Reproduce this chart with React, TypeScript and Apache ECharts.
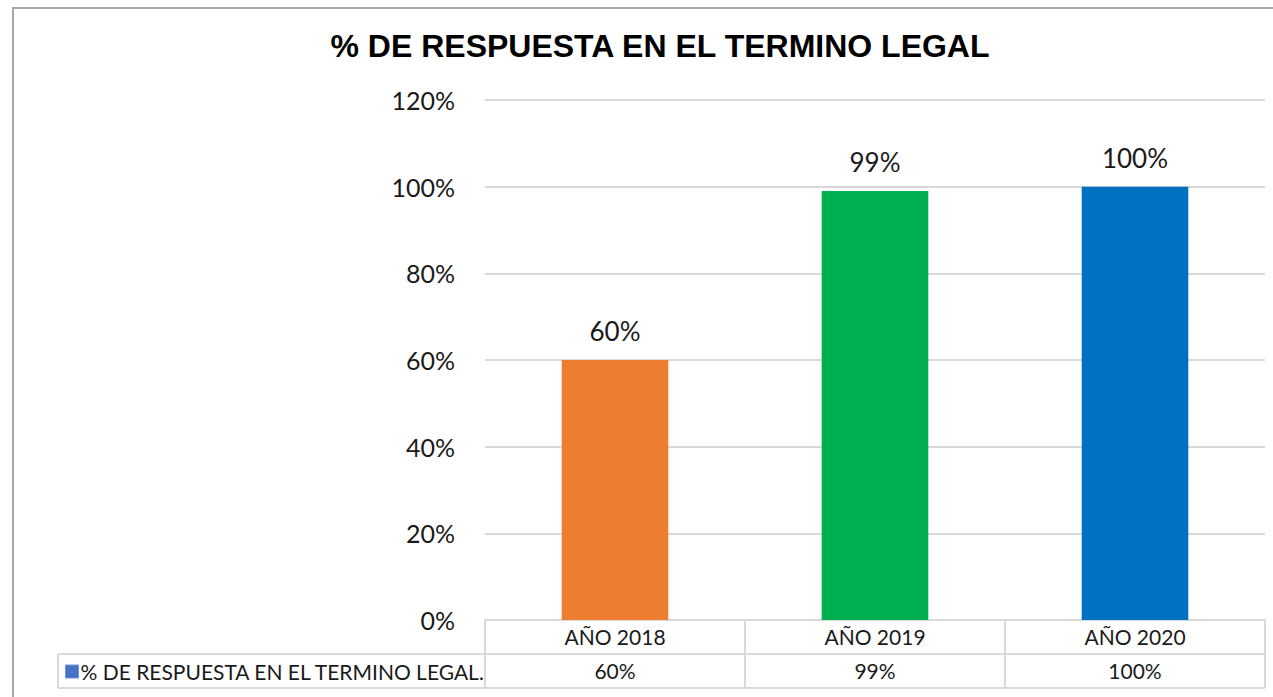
import React, { useEffect, useRef } from "react";
import * as echarts from "echarts";

const title = "% DE RESPUESTA EN EL TERMINO LEGAL";
const seriesName = "% DE RESPUESTA EN EL TERMINO LEGAL.";
const categories = ["AÑO 2018", "AÑO 2019", "AÑO 2020"];
const values = [60, 99, 100];
const barColors = ["#ED7D31", "#00B050", "#0070C0"];
const yTicks = { min: 0, max: 120, interval: 20 };

const FONT = "Lato, 'Noto Sans', sans-serif";

export default function App() {
  const ref = useRef<HTMLDivElement>(null);
  useEffect(() => {
    if (!ref.current) return;
    const chart = echarts.init(ref.current, null, { renderer: "svg" });
    const gridLeft = 485;
    const gridRight = 8;
    const gridTop = 100;
    const gridBottomY = 620;
    const rowH = 34;
    const tableColor = "#d9d9d9";
    chart.setOption({
      animation: false,
      backgroundColor: "#ffffff",
      title: {
        text: title,
        left: 655,
        textAlign: "center",
        top: 25,
        textStyle: {
          fontFamily: "'Liberation Sans', Arial, sans-serif",
          fontWeight: "bold",
          fontSize: 32,
          color: "#000000",
        },
      },
      legend: {
        show: true,
        left: 60,
        top: 656,
        itemWidth: 13,
        itemHeight: 13,
        itemGap: 4,
        icon: "rect",
        data: [seriesName],
        itemStyle: { borderColor: "#6f95d8", borderWidth: 1 },
        textStyle: { fontFamily: FONT, fontSize: 21, color: "#1a1a1a", padding: [0, 0, 0, -3] },
        selectedMode: false,
      },
      grid: {
        left: gridLeft,
        right: gridRight,
        top: gridTop,
        bottom: 697 - gridBottomY,
        containLabel: false,
      },
      xAxis: [
        {
          type: "category",
          data: categories,
          position: "bottom",
          axisLine: { show: true, lineStyle: { color: tableColor, width: 2 } },
          axisTick: {
            show: true,
            alignWithLabel: false,
            length: rowH * 2,
            lineStyle: { color: tableColor, width: 2 },
          },
          axisLabel: {
            margin: 6,
            fontFamily: FONT,
            fontSize: 21,
            color: "#1a1a1a",
          },
        },
        {
          type: "category",
          data: categories,
          position: "bottom",
          axisLine: { show: false },
          axisTick: { show: false },
          axisLabel: {
            margin: 40,
            fontFamily: FONT,
            fontSize: 21,
            color: "#1a1a1a",
            formatter: (_v: string, i: number) => values[i] + "%",
          },
        },
      ],
      yAxis: {
        type: "value",
        min: yTicks.min,
        max: yTicks.max,
        interval: yTicks.interval,
        axisLine: { show: false },
        axisTick: { show: false },
        splitLine: { show: true, lineStyle: { color: tableColor, width: 2 } },
        axisLabel: {
          margin: 30,
          fontFamily: FONT,
          fontSize: 25,
          color: "#1a1a1a",
          formatter: "{value}%",
        },
      },
      series: [
        {
          name: seriesName,
          type: "bar",
          xAxisIndex: 0,
          barWidth: "41%",
          itemStyle: { color: "#4472C4" },
          data: values.map((v, i) => ({ value: v, itemStyle: { color: barColors[i] } })),
          label: {
            show: true,
            position: "top",
            distance: 16,
            fontFamily: FONT,
            fontSize: 26,
            color: "#1a1a1a",
            formatter: "{c}%",
          },
        },
      ],
      graphic: [
        {
          type: "rect",
          shape: { x: 13, y: 8, width: 1320, height: 720 },
          style: { fill: "none", stroke: "#a6a6a6", lineWidth: 2 },
          silent: true,
        },
        {
          type: "line",
          shape: { x1: 58, y1: gridBottomY + rowH, x2: 1273 - gridRight, y2: gridBottomY + rowH },
          style: { stroke: tableColor, lineWidth: 2 },
        },
        {
          type: "line",
          shape: { x1: 58, y1: gridBottomY + rowH * 2, x2: 1273 - gridRight, y2: gridBottomY + rowH * 2 },
          style: { stroke: tableColor, lineWidth: 2 },
        },
        {
          type: "line",
          shape: { x1: 58, y1: gridBottomY + rowH, x2: 58, y2: gridBottomY + rowH * 2 },
          style: { stroke: tableColor, lineWidth: 2 },
        },
      ],
    });
    return () => chart.dispose();
  }, []);
  return (
    <div
      ref={ref}
      style={{ position: "fixed", left: 0, top: 0, width: 1273, height: 697 }}
    />
  );
}
